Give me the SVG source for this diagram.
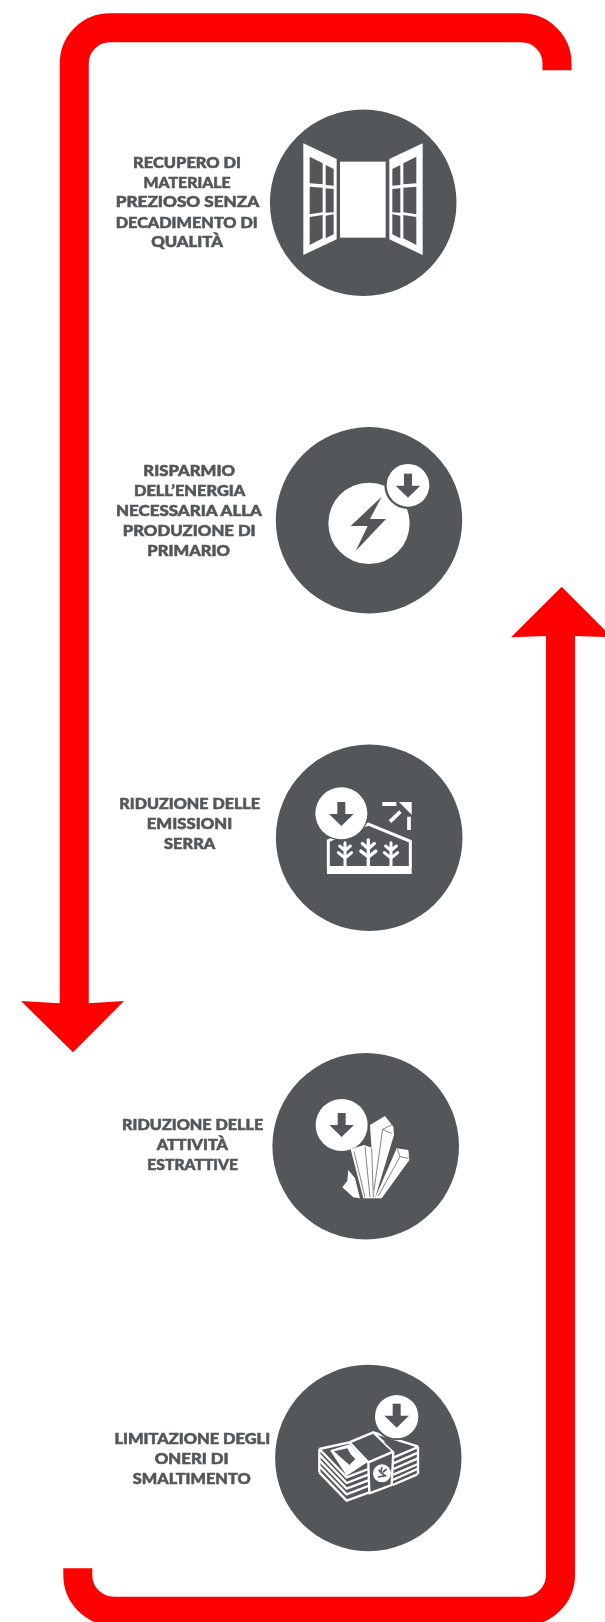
<svg xmlns="http://www.w3.org/2000/svg" xmlns:xlink="http://www.w3.org/1999/xlink" width="605" height="1622" viewBox="0 0 605 1622">
<style>
.disc{fill:#54575a}
.w{fill:#fff}
.d{fill:#54575a}
.ws{fill:none;stroke:#fff;stroke-width:9;stroke-linejoin:miter}
.ws4{fill:none;stroke:#fff;stroke-width:7;stroke-linejoin:round}
.ws9{fill:none;stroke:#fff;stroke-width:9;stroke-linecap:round}
.ds{fill:none;stroke:#54575a;stroke-width:2.2}
.dr{fill:none;stroke:#54575a;stroke-width:5}
.bar{fill:none;stroke:#f00;stroke-width:29}
.head{fill:#f00}
text{font-family:"Lato","Liberation Sans",Arial,sans-serif;font-weight:900;font-size:15.5px;fill:#54575a;stroke:#54575a;stroke-width:.55;filter:url(#soft)}
.icon{filter:url(#soft)}
</style>
<defs>
<filter id="soft" x="-5%" y="-20%" width="110%" height="140%"><feGaussianBlur stdDeviation="0.4"/></filter>
<g id="arrow"><rect x="-12" y="-36" width="24" height="38" class="d"/><polygon points="-37,0 37,0 0,36" class="d"/></g>
<g id="leaf">
<polygon class="w" points="25,25 125,72 125,313 25,360"/>
<g class="d">
<polygon points="44,65 83,85 83,148 44,145"/><polygon points="44,155 83,158 83,232 44,238"/><polygon points="44,246 83,240 83,310 44,330"/>
<polygon points="92,90 116,102 116,152 92,150"/><polygon points="92,160 116,162 116,232 92,233"/><polygon points="92,242 116,238 116,298 92,310"/>
</g>
</g>
<g id="plant" class="ws9"><path d="M0 0V-70M0 -24L-20 -40M0 -24L20 -40M0 -46L-16 -60M0 -46L16 -60"/></g>
</defs>

<g id="connectors">
<path class="bar" d="M74.25 1004V63.3A35.5 35.5 0 0 1 109.75 27.8H521.5A35.5 35.5 0 0 1 557 63.3V70.3"/>
<polygon class="head" points="21,1001 59.5,1003.3 88.7,1003.3 124,1001 73,1052.3"/>
<path class="bar" d="M77.8 1568.3V1575A36 36 0 0 0 113.8 1611.2H524A36.5 36.5 0 0 0 560.5 1574.7V635"/>
<polygon class="head" points="561.7,586.7 612,637.3 575,636 546,636 511,637.3"/>
</g>

<g id="node-1">
<circle class="disc" cx="363.2" cy="202.7" r="93.3"/>
<g class="icon" transform="translate(295 135) scale(.33333)">
<rect class="w" x="135" y="80" width="137" height="228"/>
<use xlink:href="#leaf" href="#leaf"/>
<use xlink:href="#leaf" href="#leaf" transform="translate(408 0) scale(-1 1)"/>
</g>
<g text-anchor="middle">
<text x="187.1" y="167.7" textLength="108" lengthAdjust="spacingAndGlyphs">RECUPERO DI</text>
<text x="187.1" y="187.7" textLength="87.2" lengthAdjust="spacingAndGlyphs">MATERIALE</text>
<text x="187.5" y="207.3" textLength="143.6" lengthAdjust="spacingAndGlyphs">PREZIOSO SENZA</text>
<text x="186.7" y="227.5" textLength="142" lengthAdjust="spacingAndGlyphs">DECADIMENTO DI</text>
<text x="187.1" y="247" textLength="71.8" lengthAdjust="spacingAndGlyphs">QUALITÀ</text>
</g>
</g>

<g id="node-2">
<circle class="disc" cx="369" cy="520.3" r="93.2"/>
<g class="icon" transform="translate(315 455) scale(.33333)">
<circle class="w" cx="162" cy="205" r="122"/>
<polygon class="d" points="200,125 107,213 158,213 122,288 213,192 165,192"/>
<circle class="d" cx="279" cy="91" r="71"/>
<circle class="w" cx="279" cy="91" r="64"/>
<use xlink:href="#arrow" href="#arrow" transform="translate(279 92)"/>
</g>
<g text-anchor="middle">
<text x="189.2" y="475.7" textLength="91.7" lengthAdjust="spacingAndGlyphs">RISPARMIO</text>
<text x="189.6" y="496" textLength="111.3" lengthAdjust="spacingAndGlyphs">DELL’ENERGIA</text>
<text x="189" y="516" textLength="146" lengthAdjust="spacingAndGlyphs">NECESSARIA ALLA</text>
<text x="189.2" y="536" textLength="133" lengthAdjust="spacingAndGlyphs">PRODUZIONE DI</text>
<text x="188.7" y="555.7" textLength="82.7" lengthAdjust="spacingAndGlyphs">PRIMARIO</text>
</g>
</g>

<g id="node-3">
<circle class="disc" cx="369.2" cy="837.7" r="93.3"/>
<g class="icon" transform="translate(305 780) scale(.33333)">
<path class="ws" d="M70 262V182L190 132L316 184V262"/>
<rect class="w" x="66" y="258" width="254" height="24"/>
<use xlink:href="#plant" href="#plant" transform="translate(120 258)"/>
<use xlink:href="#plant" href="#plant" transform="translate(190 258) scale(1.12)"/>
<use xlink:href="#plant" href="#plant" transform="translate(258 258)"/>
<circle class="d" cx="109" cy="100" r="82"/>
<circle class="w" cx="109" cy="100" r="78"/>
<use xlink:href="#arrow" href="#arrow" transform="translate(109 102)"/>
<rect class="w" x="232" y="66" width="42" height="12"/>
<polygon class="w" points="282,66 320,66 320,104"/>
<path class="ws" style="stroke-width:11" d="M255 125L286 95M312 110V150"/>
</g>
<g text-anchor="middle">
<text x="189.7" y="809.3" textLength="140.7" lengthAdjust="spacingAndGlyphs">RIDUZIONE DELLE</text>
<text x="189.5" y="829.3" textLength="85.6" lengthAdjust="spacingAndGlyphs">EMISSIONI</text>
<text x="189.7" y="849.3" textLength="51.3" lengthAdjust="spacingAndGlyphs">SERRA</text>
</g>
</g>

<g id="node-4">
<circle class="disc" cx="365.7" cy="1146.3" r="93.3"/>
<g class="icon" transform="translate(310 1090) scale(.33333)">
<polygon class="w" points="180,105 225,78 250,110 252,135 195,325 185,180"/>
<polygon class="w" points="260,175 295,180 298,210 215,325 195,325"/>
<polygon class="w" points="122,178 162,165 190,175 195,325 160,325"/>
<polygon class="w" points="115,240 135,265 150,325 130,322 97,292 112,272"/>
<path class="ds" d="M132 184L165 322M165 170L180 322M185 175L190 322M218 118L250 102M218 118L245 130M218 118L192 300M262 178L270 200L205 318M270 200L296 205"/>
<circle class="w" cx="95" cy="105" r="78"/>
<use xlink:href="#arrow" href="#arrow" transform="translate(95 105)"/>
</g>
<g text-anchor="middle">
<text x="192.7" y="1130" textLength="141.3" lengthAdjust="spacingAndGlyphs">RIDUZIONE DELLE</text>
<text x="192.4" y="1150.3" textLength="71.3" lengthAdjust="spacingAndGlyphs">ATTIVITÀ</text>
<text x="192.7" y="1170" textLength="90.7" lengthAdjust="spacingAndGlyphs">ESTRATTIVE</text>
</g>
</g>

<g id="node-5">
<circle class="disc" cx="368.3" cy="1458" r="93.2"/>
<g class="icon" transform="translate(310 1385) scale(.33333)">
<g class="ws4">
<path d="M28 192L110 277L175 252M28 209L110 294L175 269M28 226L110 311L175 286M28 243L110 328L175 303M28 262L110 347L178 322"/>
<path d="M250 218L324 186M250 235L324 203M250 252L324 220M250 269L324 237M248 300L322 268M248 285L322 252"/>
<path d="M28 192L118 172L175 232M118 172L190 142L250 200L175 232L178 325L245 300L250 200M190 142L325 185"/>
<path d="M28 192V262M324 186V268"/>
</g>
<polygon class="w" points="60,196 118,178 172,232 110,272"/>
<polygon class="d" points="72,199 112,190 122,208 136,222 118,240"/>
<polygon class="d" points="222,172 268,172 300,186 258,205"/>
<circle class="w" cx="216" cy="265" r="27"/>
<path class="dr" d="M216 246L212 262L226 272L204 276M230 252L218 262M206 254L212 262"/>
<circle class="d" cx="260" cy="95" r="71"/>
<circle class="w" cx="260" cy="95" r="65"/>
<use xlink:href="#arrow" href="#arrow" transform="translate(260 92)"/>
</g>
<g text-anchor="middle">
<text x="192.3" y="1444" textLength="155.7" lengthAdjust="spacingAndGlyphs">LIMITAZIONE DEGLI</text>
<text x="191.7" y="1464.3" textLength="74" lengthAdjust="spacingAndGlyphs">ONERI DI</text>
<text x="191.7" y="1484" textLength="117.8" lengthAdjust="spacingAndGlyphs">SMALTIMENTO</text>
</g>
</g>
</svg>
